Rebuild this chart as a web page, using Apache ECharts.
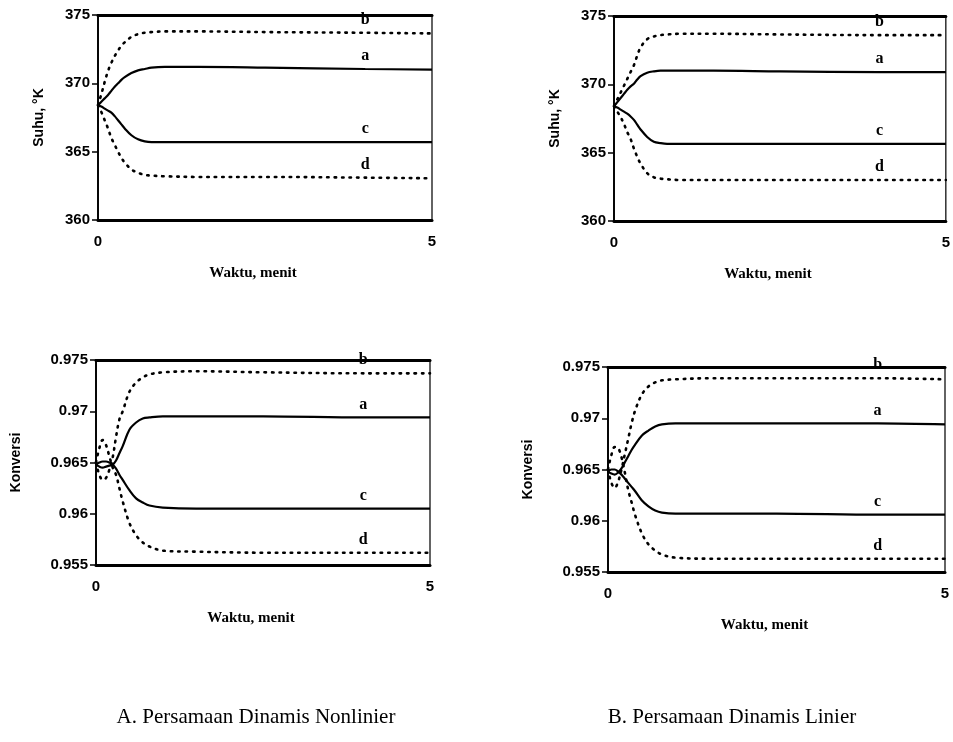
<!DOCTYPE html>
<html>
<head>
<meta charset="utf-8">
<script src="https://cdn.jsdelivr.net/npm/echarts@6/dist/echarts.min.js"></script>
<style>
  html, body { margin: 0; padding: 0; background: #fff; }
  #chart { width: 953px; height: 742px; }
</style>
</head>
<body>
<div id="chart"></div>
<script>
// waktu (menit), sama untuk semua kurva
var waktu = [0, 0.05, 0.1, 0.15, 0.2, 0.25, 0.3, 0.35, 0.4, 0.5, 0.6, 0.7, 0.8, 1, 1.5, 2.5, 4, 5];

// A. nonlinier - suhu (K)
var suhuNonA = [368.4, 368.65, 368.9, 369.15, 369.45, 369.75, 370.0, 370.25, 370.45, 370.75, 370.95, 371.05, 371.15, 371.2, 371.2, 371.15, 371.05, 371.0];
var suhuNonB = [368.4, 369.2, 370.1, 370.9, 371.5, 372.0, 372.4, 372.75, 373.0, 373.4, 373.6, 373.7, 373.75, 373.8, 373.8, 373.75, 373.7, 373.65];
var suhuNonC = [368.4, 368.3, 368.15, 368.0, 367.85, 367.6, 367.3, 367.0, 366.7, 366.2, 365.9, 365.75, 365.7, 365.7, 365.7, 365.7, 365.7, 365.7];
var suhuNonD = [368.4, 367.9, 367.3, 366.7, 366.0, 365.5, 365.0, 364.55, 364.2, 363.7, 363.45, 363.3, 363.25, 363.2, 363.15, 363.15, 363.1, 363.05];

// B. linier - suhu (K)
var suhuLinA = [368.4, 368.7, 369.0, 369.3, 369.6, 369.85, 370.05, 370.35, 370.6, 370.85, 370.95, 371.0, 371.0, 371.0, 371.0, 370.95, 370.9, 370.9];
var suhuLinB = [368.4, 368.9, 369.4, 369.9, 370.4, 370.9, 371.4, 372.1, 372.7, 373.3, 373.5, 373.6, 373.65, 373.7, 373.7, 373.65, 373.6, 373.6];
var suhuLinC = [368.4, 368.3, 368.15, 368.0, 367.85, 367.65, 367.4, 367.05, 366.7, 366.15, 365.8, 365.7, 365.65, 365.65, 365.65, 365.65, 365.65, 365.65];
var suhuLinD = [368.4, 368.0, 367.6, 367.1, 366.5, 366.0, 365.3, 364.7, 364.2, 363.5, 363.2, 363.1, 363.05, 363.0, 363.0, 363.0, 363.0, 363.0];

// A. nonlinier - konversi
var konvNonA = [0.9648, 0.9646, 0.9645, 0.9646, 0.9647, 0.9648, 0.9652, 0.9659, 0.9666, 0.9682, 0.9689, 0.9693, 0.9694, 0.9695, 0.9695, 0.9695, 0.9694, 0.9694];
var konvNonB = [0.9650, 0.9638, 0.9633, 0.9635, 0.9643, 0.9655, 0.9675, 0.9692, 0.9700, 0.9719, 0.9728, 0.9733, 0.9736, 0.9738, 0.9739, 0.9738, 0.9737, 0.9737];
var konvNonC = [0.9648, 0.9650, 0.9651, 0.9651, 0.9650, 0.9648, 0.9644, 0.9638, 0.9633, 0.9623, 0.9615, 0.9611, 0.9608, 0.9606, 0.9605, 0.9605, 0.9605, 0.9605];
var konvNonD = [0.9650, 0.9664, 0.9672, 0.9667, 0.9656, 0.9645, 0.9638, 0.9625, 0.9612, 0.9591, 0.9579, 0.9572, 0.9568, 0.9564, 0.9563, 0.9562, 0.9562, 0.9562];

// B. linier - konversi
var konvLinA = [0.9648, 0.9646, 0.9645, 0.9647, 0.9651, 0.9657, 0.9663, 0.9669, 0.9674, 0.9683, 0.9688, 0.9692, 0.9694, 0.9695, 0.9695, 0.9695, 0.9695, 0.9694];
var konvLinB = [0.9650, 0.9637, 0.9632, 0.9638, 0.9650, 0.9665, 0.9680, 0.9695, 0.9707, 0.9723, 0.9731, 0.9735, 0.9737, 0.9738, 0.9739, 0.9739, 0.9739, 0.9738];
var konvLinC = [0.9648, 0.9650, 0.9650, 0.9648, 0.9645, 0.9641, 0.9637, 0.9633, 0.9629, 0.9620, 0.9614, 0.9610, 0.9608, 0.9607, 0.9607, 0.9607, 0.9606, 0.9606];
var konvLinD = [0.9650, 0.9664, 0.9672, 0.9671, 0.9662, 0.9647, 0.9630, 0.9618, 0.9606, 0.9588, 0.9577, 0.9571, 0.9567, 0.9564, 0.9563, 0.9563, 0.9563, 0.9563];

var suhuTicks = [360, 365, 370, 375];
var konvTicks = [0.955, 0.96, 0.965, 0.97, 0.975];
var waktuTicks = [0, 5];
var namaKurva = ['a', 'b', 'c', 'd'];
var posisiLabel = 4; // label huruf di t = 4 menit

var chart = echarts.init(document.getElementById('chart'));

// tiap panel: grid, data kurva, sumbu y
var panels = [
  { grid: { left: 98, top: 15, width: 334, height: 205 }, curves: [suhuNonA, suhuNonB, suhuNonC, suhuNonD],
    ticks: suhuTicks, name: 'Suhu, °K', nameGap: 52, fmt: function (v) { return String(v); } },
  { grid: { left: 614, top: 16, width: 338, height: 205 }, curves: [suhuLinA, suhuLinB, suhuLinC, suhuLinD],
    ticks: suhuTicks, name: 'Suhu, °K', nameGap: 52, fmt: function (v) { return String(v); } },
  { grid: { left: 96, top: 360, width: 334, height: 205 }, curves: [konvNonA, konvNonB, konvNonC, konvNonD],
    ticks: konvTicks, name: 'Konversi', nameGap: 73, fmt: function (v) { return String(+v.toFixed(3)); } },
  { grid: { left: 608, top: 367, width: 337, height: 205 }, curves: [konvLinA, konvLinB, konvLinC, konvLinD],
    ticks: konvTicks, name: 'Konversi', nameGap: 73, fmt: function (v) { return String(+v.toFixed(3)); } }
];

var grids = [], xAxes = [], yAxes = [], series = [];
var labelFont = { color: '#000', fontFamily: 'Liberation Sans', fontWeight: 'bold', fontSize: 15 };

panels.forEach(function (p, i) {
  var step = p.ticks[1] - p.ticks[0];
  grids.push(Object.assign({ show: true, borderColor: '#111', borderWidth: 1.3, backgroundColor: 'transparent' }, p.grid));
  // sumbu x bawah
  xAxes.push({
    gridIndex: i, type: 'value', min: waktuTicks[0], max: waktuTicks[1], interval: waktuTicks[1] - waktuTicks[0],
    name: 'Waktu, menit', nameLocation: 'middle', nameGap: 46,
    nameTextStyle: { color: '#000', fontFamily: 'Liberation Serif', fontWeight: 'bold', fontSize: 15, padding: [0, 24, 0, 0] },
    axisLine: { show: true, lineStyle: { color: '#000', width: 3 } },
    axisTick: { show: false }, splitLine: { show: false },
    axisLabel: Object.assign({ margin: 14 }, labelFont)
  });
  // garis tebal atas
  xAxes.push({
    gridIndex: i, type: 'value', position: 'top', min: waktuTicks[0], max: waktuTicks[1],
    axisLine: { show: true, lineStyle: { color: '#000', width: 3 } },
    axisTick: { show: false }, axisLabel: { show: false }, splitLine: { show: false }
  });
  yAxes.push({
    gridIndex: i, type: 'value', min: p.ticks[0], max: p.ticks[p.ticks.length - 1], interval: step,
    name: p.name, nameLocation: 'middle', nameGap: p.nameGap, nameRotate: 90,
    nameTextStyle: { color: '#000', fontFamily: 'Liberation Sans', fontWeight: 'bold', fontSize: 14 },
    axisLine: { show: true, lineStyle: { color: '#000', width: 1.5 } },
    axisTick: { show: true, length: 6, lineStyle: { color: '#000', width: 1.5 } },
    splitLine: { show: false },
    axisLabel: Object.assign({ margin: 8, formatter: p.fmt }, labelFont)
  });
  yAxes.push({
    gridIndex: i, type: 'value', position: 'right', min: p.ticks[0], max: p.ticks[p.ticks.length - 1], interval: step,
    axisLine: { show: true, lineStyle: { color: '#000', width: 1.5 } },
    axisTick: { show: true, inside: true, length: 5, lineStyle: { color: '#000', width: 1.5 } },
    axisLabel: { show: false }, splitLine: { show: false }
  });

  p.curves.forEach(function (vals, k) {
    var dotted = (k === 1 || k === 3);
    var li = waktu.indexOf(posisiLabel);
    series.push({
      type: 'line', xAxisIndex: 2 * i, yAxisIndex: 2 * i,
      data: waktu.map(function (t, j) { return [t, vals[j]]; }),
      smooth: 0.35, symbol: 'none', silent: true,
      lineStyle: dotted
        ? { color: '#000', width: 2.6, type: [1.5, 6], cap: 'round' }
        : { color: '#000', width: 2.2 },
      markPoint: {
        symbol: 'circle', symbolSize: 0, silent: true,
        data: [{ coord: [waktu[li], vals[li]], value: namaKurva[k] }],
        label: { show: true, formatter: namaKurva[k], offset: [0, -13], color: '#000',
                 fontFamily: 'Liberation Serif', fontWeight: 'bold', fontSize: 16 }
      }
    });
  });
});

chart.setOption({
  animation: false,
  backgroundColor: '#fff',
  title: [
    { text: 'A. Persamaan Dinamis Nonlinier', left: 251, top: 702, textAlign: 'center',
      textStyle: { color: '#000', fontFamily: 'Liberation Serif', fontWeight: 'normal', fontSize: 21 } },
    { text: 'B. Persamaan Dinamis Linier', left: 727, top: 702, textAlign: 'center',
      textStyle: { color: '#000', fontFamily: 'Liberation Serif', fontWeight: 'normal', fontSize: 21 } }
  ],
  grid: grids,
  xAxis: xAxes,
  yAxis: yAxes,
  series: series
});
</script>
</body>
</html>
